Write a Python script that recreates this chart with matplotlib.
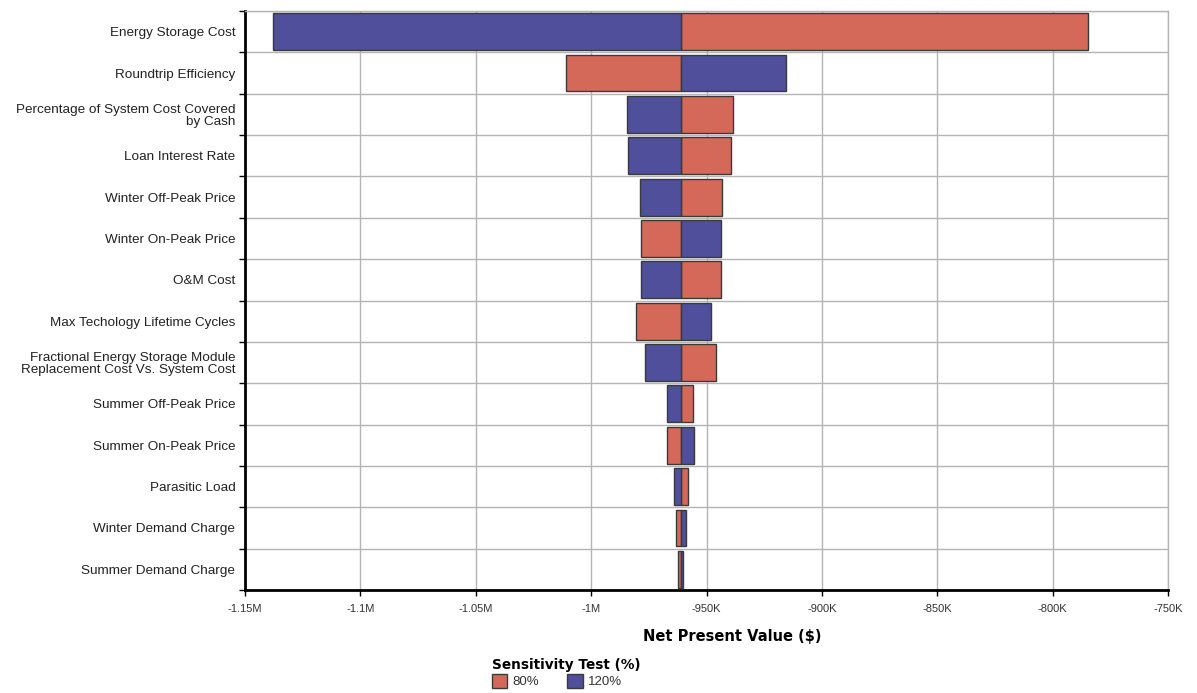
import matplotlib.pyplot as plt
from matplotlib.patches import Patch
import numpy as np

plt.rcParams['font.family'] = ['Liberation Sans', 'DejaVu Sans']

# Sensitivity results (values in $K)
factors = ['Energy Storage Cost', 'Roundtrip Efficiency',
           'Percentage of System Cost Covered\nby Cash', 'Loan Interest Rate',
           'Winter Off-Peak Price', 'Winter On-Peak Price', 'O&M Cost',
           'Max Techology Lifetime Cycles',
           'Fractional Energy Storage Module\nReplacement Cost Vs. System Cost',
           'Summer Off-Peak Price', 'Summer On-Peak Price', 'Parasitic Load',
           'Winter Demand Charge', 'Summer Demand Charge']
base_npv = -961.0
npv_80 = [-784.7, -1011.0, -938.5, -939.4, -943.3, -978.4, -943.7,
          -980.6, -945.9, -955.8, -967.0, -958.0, -963.2, -962.3]
npv_120 = [-1138.0, -915.5, -984.5, -984.0, -979.0, -943.7, -978.4,
           -948.0, -976.7, -967.1, -955.4, -964.0, -958.8, -960.1]
xticks = [-1150, -1100, -1050, -1000, -950, -900, -850, -800, -750]
xticklabels = ['-1.15M', '-1.1M', '-1.05M', '-1M', '-950K', '-900K', '-850K', '-800K', '-750K']

red = '#d4695a'
blue = '#4f4f9c'
edge = '#3a3a3a'

fig = plt.figure(figsize=(11.97, 6.93), dpi=100)
ax = fig.add_axes([245 / 1197, 1 - 590 / 693, 923 / 1197, 579 / 693])

y = np.arange(len(factors))
w80 = np.array(npv_80) - base_npv
w120 = np.array(npv_120) - base_npv
ax.barh(y, w80, left=base_npv, height=0.89, color=red, edgecolor=edge, linewidth=1, zorder=3)
ax.barh(y, w120, left=base_npv, height=0.89, color=blue, edgecolor=edge, linewidth=1, zorder=3)

ax.set_xlim(-1150, -750)
ax.set_ylim(len(factors) - 0.5, -0.5)
ax.set_xticks(xticks)
ax.set_xticklabels(xticklabels, fontsize=8, color='#333333')

ax.set_yticks(np.arange(len(factors) + 1) - 0.5)
ax.set_yticklabels([])
ax.set_yticks(y, minor=True)
ax.set_yticklabels(factors, minor=True, fontsize=9.7, color='#222222', linespacing=1.05)
ax.tick_params(axis='y', which='minor', length=0, pad=7)
ax.tick_params(axis='y', which='major', length=4, width=1, direction='out')
ax.tick_params(axis='x', length=4, width=1, pad=6)

ax.grid(True, which='major', color='#b4b4b4', linewidth=1, zorder=0)
ax.set_axisbelow(True)

for s in ['top', 'right']:
    ax.spines[s].set_color('#b4b4b4')
    ax.spines[s].set_linewidth(1)
for s in ['left', 'bottom']:
    ax.spines[s].set_color('black')
    ax.spines[s].set_linewidth(2)

ax.set_xlabel('Net Present Value ($)', fontsize=10.5, fontweight='bold',
              family='DejaVu Sans')
ax.xaxis.set_label_coords(0.528, -0.068)

handles = [Patch(facecolor=red, edgecolor=edge, label='80%'),
           Patch(facecolor=blue, edgecolor=edge, label='120%')]
leg = fig.legend(handles=handles, loc='upper left', bbox_to_anchor=(485 / 1197, 1 - 651 / 693),
                 ncol=2, frameon=False, fontsize=9.5, title='Sensitivity Test (%)',
                 title_fontproperties={'weight': 'bold', 'size': 9.8, 'family': 'DejaVu Sans'},
                 handlelength=1.2, handleheight=1.2, columnspacing=2.1, handletextpad=0.4,
                 borderpad=0, labelspacing=0.2)
leg._legend_box.align = 'left'
for t in leg.get_texts():
    t.set_color('#333333')

fig.savefig('out.png', dpi=100)
